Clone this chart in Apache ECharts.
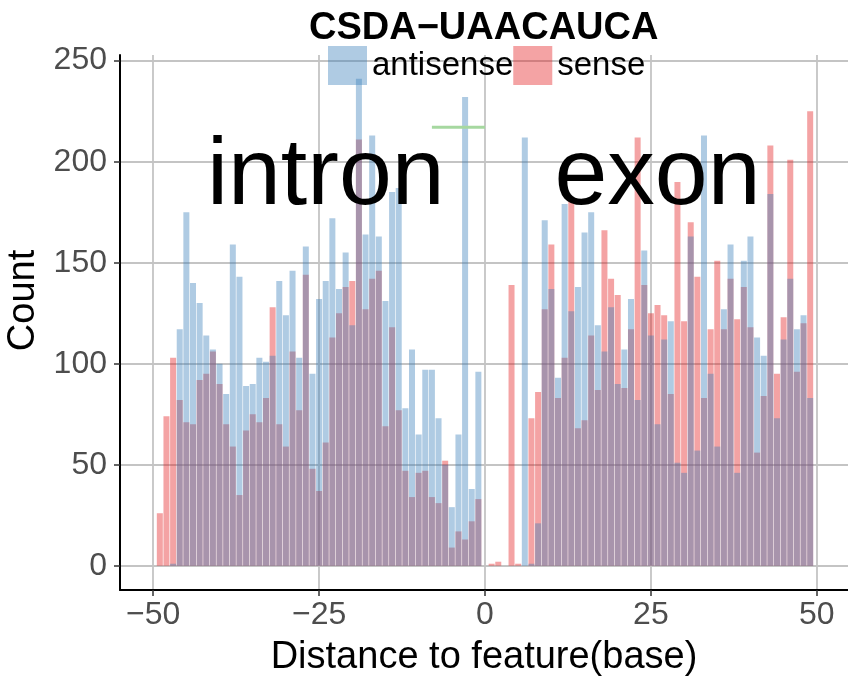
<!DOCTYPE html>
<html>
<head>
<meta charset="utf-8">
<script src="https://cdn.jsdelivr.net/npm/echarts@6/dist/echarts.min.js"></script>
<style>
  html, body { margin: 0; padding: 0; background: #fff; }
  #chart { width: 848px; height: 677px; }
</style>
</head>
<body>
<div id="chart"></div>
<script>
// distance to feature, one bin per base
const positions = [
  -50, -49, -48, -47, -46, -45, -44, -43, -42, -41, -40, -39, -38, -37, -36, -35, -34,
  -33, -32, -31, -30, -29, -28, -27, -26, -25, -24, -23, -22, -21, -20, -19, -18, -17,
  -16, -15, -14, -13, -12, -11, -10, -9, -8, -7, -6, -5, -4, -3, -2, -1, 0,
  1, 2, 3, 4, 5, 6, 7, 8, 9, 10, 11, 12, 13, 14, 15, 16, 17,
  18, 19, 20, 21, 22, 23, 24, 25, 26, 27, 28, 29, 30, 31, 32, 33, 34,
  35, 36, 37, 38, 39, 40, 41, 42, 43, 44, 45, 46, 47, 48, 49, 50
];

const antisense = [
  0, 0, 0, 1, 117, 175, 140, 130, 114, 107, 100, 85, 159, 143, 89, 90, 103,
  101, 104, 141, 124, 146, 103, 158, 95, 132, 141, 172, 137, 155, 119, 241, 164, 213,
  163, 131, 185, 187, 78, 107, 65, 97, 97, 73, 50, 29, 65, 232, 38, 96, 0,
  0, 0, 0, 0, 0, 212, 1, 21, 171, 137, 93, 179, 126, 138, 165, 175, 119,
  106, 128, 90, 107, 132, 82, 156, 114, 70, 112, 121, 51, 46, 163, 57, 213, 95,
  59, 127, 159, 46, 151, 163, 113, 104, 184, 73, 112, 142, 117, 124, 83, 0
];

const sense = [
  0, 26, 74, 103, 82, 71, 70, 92, 95, 106, 90, 70, 59, 35, 67, 75, 71,
  83, 128, 70, 59, 106, 77, 144, 48, 37, 61, 113, 125, 138, 141, 211, 127, 142,
  146, 69, 118, 77, 47, 34, 46, 47, 34, 31, 52, 9, 17, 13, 22, 33, 0,
  1, 2, 0, 139, 1, 0, 73, 86, 127, 159, 83, 103, 182, 68, 72, 114, 87,
  166, 142, 134, 88, 117, 212, 139, 125, 129, 124, 85, 190, 121, 170, 143, 83, 117,
  151, 117, 142, 122, 138, 118, 56, 84, 208, 95, 123, 201, 96, 120, 225, 0
];

const xTicks = [-50, -25, 0, 25, 50];
const yTicks = [0, 50, 100, 150, 200, 250];

const labels = ["intron", "exon"];
const labelX = [-24, 26];
const labelY = [192, 192];

const segX = [-8, 0];
const segY = [217, 217];

const FONT = "Liberation Sans, Arial, sans-serif";
const RED = "rgba(228,26,28,0.4)";
const BLUE = "rgba(55,126,184,0.4)";

const chart = echarts.init(document.getElementById("chart"), null, { renderer: "canvas" });

const pairs = vals => positions.map((x, i) => [x, vals[i]]);

chart.setOption({
  animation: false,
  backgroundColor: "#fff",
  title: {
    text: "CSDA\u2212UAACAUCA",
    left: 309,
    top: 10,
    padding: 0,
    textStyle: { fontFamily: FONT, fontSize: 38, fontWeight: "bold", color: "#000" },
  },
  legend: {
    data: ["antisense", "sense"],
    left: 328,
    top: 46,
    padding: 0,
    itemWidth: 39,
    itemHeight: 39,
    itemGap: 0,
    icon: "rect",
    textStyle: { fontFamily: FONT, fontSize: 33, color: "#000", padding: [10, 0, 0, 0] },
  },
  grid: { left: 120, right: 0, top: 55, bottom: 87, outerBoundsMode: "none", containLabel: false },
  xAxis: {
    type: "value",
    min: -55,
    max: 54.7,
    name: "Distance to feature(base)",
    nameLocation: "middle",
    nameGap: 49,
    nameTextStyle: { fontFamily: FONT, fontSize: 38, color: "#000" },
    axisLine: { onZero: false, lineStyle: { color: "#000", width: 2 } },
    axisTick: { show: true, length: 6, customValues: xTicks, lineStyle: { color: "#333", width: 1.5 } },
    axisLabel: { customValues: xTicks, fontFamily: FONT, fontSize: 32, color: "#4d4d4d", margin: 9,
      formatter: v => (v < 0 ? "\u2212" + Math.abs(v) : String(v)) },
    splitLine: { show: true, lineStyle: { color: "#c4c4c4", width: 1.8 } },
  },
  yAxis: {
    type: "value",
    min: -12,
    max: 252.8,
    name: "Count",
    nameLocation: "middle",
    nameGap: 76,
    nameTextStyle: { fontFamily: FONT, fontSize: 38, color: "#000", padding: [0, 0, 0, 44] },
    axisLine: { show: true, onZero: false, lineStyle: { color: "#000", width: 2 } },
    axisTick: { show: true, length: 6, customValues: yTicks, lineStyle: { color: "#333", width: 1.5 } },
    axisLabel: { customValues: yTicks, fontFamily: FONT, fontSize: 32, color: "#4d4d4d", margin: 13 },
    splitLine: { show: true, lineStyle: { color: "#c4c4c4", width: 1.8 } },
  },
  series: [
    {
      name: "sense",
      type: "bar",
      barWidth: 6,
      barGap: "-100%",
      itemStyle: { color: RED },
      data: pairs(sense),
    },
    {
      name: "antisense",
      type: "bar",
      barWidth: 6,
      barGap: "-100%",
      itemStyle: { color: BLUE },
      data: pairs(antisense),
    },
    {
      name: "segment",
      type: "line",
      symbol: "none",
      lineStyle: { color: "#a6d8a0", width: 3 },
      data: segX.map((x, i) => [x, segY[i]]),
      z: 5,
    },
    {
      name: "annot",
      type: "scatter",
      symbolSize: 0,
      silent: true,
      z: 6,
      itemStyle: { opacity: 1 },
      label: {
        show: true,
        position: "inside",
        formatter: p => p.name,
        fontFamily: FONT,
        fontSize: 95,
        color: "#000",
        opacity: 1,
      },
      data: labels.map((t, i) => ({ name: t, value: [labelX[i], labelY[i]] })),
    },
  ],
});
</script>
</body>
</html>
